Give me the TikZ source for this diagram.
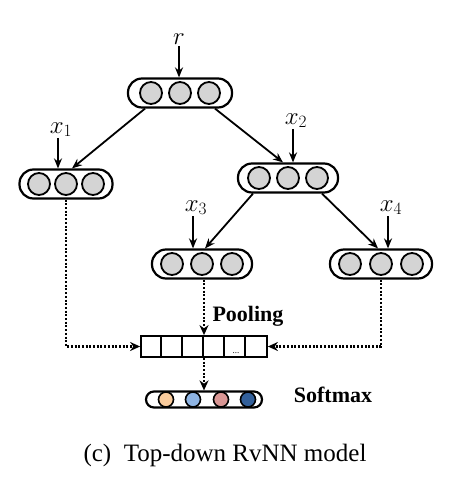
\documentclass[tikz,border=0pt]{standalone}
\usepackage{fontspec}
\setmainfont{Liberation Serif}
\usetikzlibrary{arrows.meta,calc}
\definecolor{cellgray}{HTML}{D4D4D4}
\definecolor{smA}{HTML}{F9CB9C}
\definecolor{smB}{HTML}{8EB4E3}
\definecolor{smC}{HTML}{D99694}
\definecolor{smD}{HTML}{33609A}
\newcommand\mypill[5]{%
  \node[pillbox,minimum width=#4pt] (#1) at (#2,#3) {};
  \node[cell] (#1a) at ($(#1)+(-#5,0)$) {};
  \node[cell] (#1b) at (#1) {};
  \node[cell] (#1c) at ($(#1)+(#5,0)$) {};}
\begin{document}
\begin{tikzpicture}[x=1pt,y=-1pt,
 pillbox/.style={draw,line width=2.2pt,rounded corners=14pt,minimum height=29pt,inner sep=0},
 cell/.style={circle,draw,line width=1.8pt,fill=cellgray,minimum size=22pt,inner sep=0},
 sm/.style={circle,draw,line width=1.6pt,minimum size=15pt,inner sep=0},
 arr/.style={line width=1.8pt,-{Stealth[length=10pt,width=8pt]}},
 dotarr/.style={line width=2.2pt,dash pattern=on 2pt off 1.7pt,-{Stealth[length=10pt,width=9pt]}},
 lab/.style={font=\fontsize{24}{26}\selectfont,inner sep=1pt,anchor=south},
 boldlab/.style={font=\fontsize{22}{26}\selectfont\bfseries},
]
\useasboundingbox (0,0) rectangle (464,489);
\mypill{root}{180}{93}{104}{29}
\mypill{na}{66}{184}{93}{27}
\mypill{nb}{288}{178}{100}{29}
\mypill{nc}{202}{264}{100}{30}
\mypill{nd}{381}{264}{102}{31}

\node[lab] (lr) at (179,46) {$r$};
\node[lab] (l1) at (61,138) {$x_1$};
\node[lab] (l2) at (296,129) {$x_2$};
\node[lab] (l3) at (196,216) {$x_3$};
\node[lab] (l4) at (391,216) {$x_4$};
\draw[arr] (lr.south) -- (lr.south |- root.north);
\draw[arr] ($(l1.south)+(-3,0)$) -- ($(l1.south |- na.north)+(-3,0)$);
\draw[arr] ($(l2.south)+(-3,0)$) -- ($(l2.south |- nb.north)+(-3,0)$);
\draw[arr] ($(l3.south)+(-3,0)$) -- ($(l3.south |- nc.north)+(-3,0)$);
\draw[arr] ($(l4.south)+(-3,0)$) -- ($(l4.south |- nd.north)+(-3,0)$);

\draw[arr] ($(root.south)+(-35,0)$) -- ($(na.north)+(6,0)$);
\draw[arr] ($(root.south)+(35,0)$) -- ($(nb.north)+(-5,0)$);
\draw[arr] ($(nb.south)+(-35,0)$) -- ($(nc.north)+(3,0)$);
\draw[arr] ($(nb.south)+(34,0)$) -- ($(nd.north)+(-3,0)$);

\node[draw,line width=1.8pt,minimum width=126pt,minimum height=21pt,inner sep=0] (pool) at (204,346.5) {};
\foreach \i in {1,...,5}
  \draw[line width=1.5pt] ($(pool.north west)+(\i*21,0)$) -- ($(pool.south west)+(\i*21,0)$);
\node[font=\fontsize{9}{9}\selectfont,inner sep=0,anchor=base] (dots) at (236,353) {...};

\node[pillbox,rounded corners=8pt,minimum width=116pt,minimum height=16pt] (soft) at (204,399.5) {};
\node[sm,fill=smA] (s1) at ($(soft)+(-38,0)$) {};
\node[sm,fill=smB] (s2) at ($(soft)+(-11,0)$) {};
\node[sm,fill=smC] (s3) at ($(soft)+(17,0)$) {};
\node[sm,fill=smD] (s4) at ($(soft)+(44,0)$) {};

\draw[dotarr] (na.south) |- (pool.west);
\draw[dotarr] (nd.south) |- (pool.east);
\draw[dotarr] (nc.south -| pool.north) -- (pool.north);
\draw[dotarr] (pool.south) -- (soft.north);

\node[boldlab] (pl) at (248,316) {Pooling};
\node[boldlab] (sx) at (333,395) {Softmax};
\node[font=\fontsize{25}{28}\selectfont] (cap) at (225,455) {(c)\hspace{0.5em}Top-down RvNN model};
\end{tikzpicture}
\end{document}
